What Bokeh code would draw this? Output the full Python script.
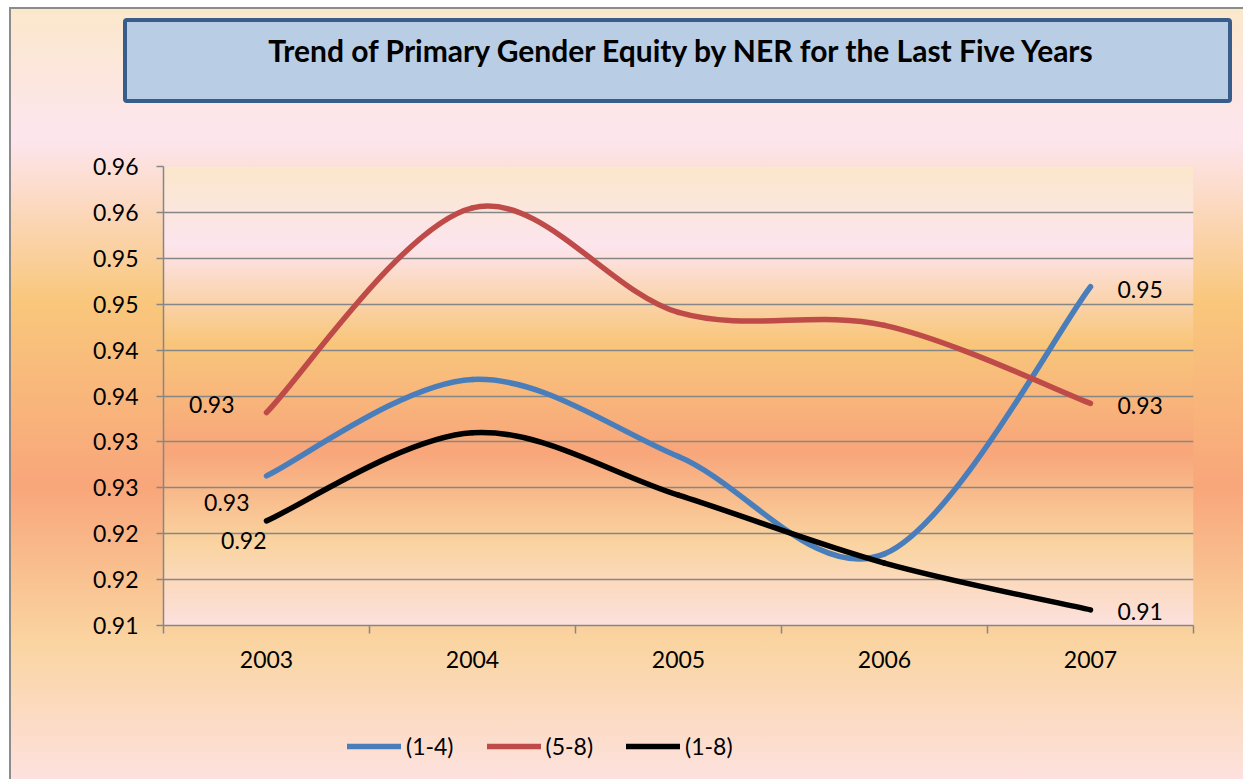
import numpy as np
from bokeh.plotting import figure
from bokeh.layouts import column
from bokeh.models import (Range1d, FixedTicker, CustomJSTickFormatter, ColumnDataSource,
                          Legend, LegendItem, Div)
from bokeh.core.properties import value
from bokeh.embed import file_html
from bokeh.resources import INLINE

# ---------------- data ----------------
years = ["2003", "2004", "2005", "2006", "2007"]
series_names = ["(1-4)", "(5-8)", "(1-8)"]
ner_1_4 = [0.9263, 0.9368, 0.9284, 0.9178, 0.9469]
ner_5_8 = [0.9332, 0.9555, 0.9441, 0.9427, 0.9342]
ner_1_8 = [0.9214, 0.9310, 0.9242, 0.9168, 0.9117]
y_ticks = [0.910, 0.915, 0.920, 0.925, 0.930, 0.935, 0.940, 0.945, 0.950, 0.955, 0.960]
y_tick_labels = ["0.91", "0.92", "0.92", "0.93", "0.93", "0.94", "0.94", "0.95", "0.95", "0.96", "0.96"]
title_text = "Trend of Primary Gender Equity by NER for the Last Five Years"

# ---------------- styles ----------------
FONT = "Lato"
FS = "23px"
LW = 5.5
colors = ["#4a7ebb", "#be4b48", "#000000"]
grid_col = "#868686"
grad_stops = [(0.0, "#fbe8cb"), (0.17, "#fde5ee"), (0.38, "#f9c77c"),
              (0.62, "#f8a67a"), (0.82, "#fad4a0"), (1.0, "#fde1de")]

TOTAL_W, TOTAL_H = 1243, 779
DIV_H = 120      # title strip
LEG_H = 89       # legend strip
PLOT_H = TOTAL_H - DIV_H - LEG_H

# ---------------- title box (HTML text) ----------------
title_div = Div(
    text=(f'<div style="position:relative;width:{TOTAL_W}px;height:{DIV_H}px;">'
          f'<div style="position:absolute;left:123px;top:18px;width:1109px;height:85px;'
          f'box-sizing:border-box;border:4px solid #385d8a;border-radius:4px;background:#b9cde5;'
          f'font-family:{FONT};font-weight:bold;font-size:30px;line-height:36px;color:#000;'
          f'text-align:center;padding-top:10px;padding-left:6px;white-space:nowrap;">'
          f'{title_text}</div></div>'),
    width=TOTAL_W, height=DIV_H, margin=(0, 0, 0, 0))

# ---------------- main plot ----------------
p = figure(width=TOTAL_W, height=PLOT_H, output_backend="svg", toolbar_location=None, title=None,
           x_range=Range1d(-0.5, len(years) - 0.5), y_range=Range1d(y_ticks[0], y_ticks[-1]),
           min_border_left=163, min_border_right=50, min_border_top=166 - DIV_H,
           min_border_bottom=PLOT_H - (625 - DIV_H))
p.margin = (0, 0, 0, 0)
p.border_fill_color = None
p.background_fill_color = None
p.outline_line_color = None

# plot-area gradient (decorative background image)
def hex2rgb(h):
    return [int(h[i:i + 2], 16) for i in (1, 3, 5)]
N = 460
fr = np.array([f for f, _ in grad_stops])
cols = np.array([hex2rgb(c) for _, c in grad_stops], dtype=float)
t = 1.0 - np.linspace(0, 1, N)  # row 0 = bottom
rgb = np.stack([np.interp(t, fr, cols[:, k]) for k in range(3)], axis=1)
img = np.zeros((N, 2), dtype=np.uint32)
view = img.view(dtype=np.uint8).reshape((N, 2, 4))
for k in range(3):
    view[:, :, k] = rgb[:, None, k]
view[:, :, 3] = 255
p.image_rgba(image=[img], x=-0.5, y=y_ticks[0], dw=len(years), dh=y_ticks[-1] - y_ticks[0], level="image")

# axes
p.xaxis.ticker = FixedTicker(ticks=list(range(len(years))),
                             minor_ticks=[i - 0.5 for i in range(len(years) + 1)])
p.xaxis.formatter = CustomJSTickFormatter(args=dict(labels=years),
    code="const i = Math.round(tick); return (i >= 0 && i < labels.length) ? labels[i] : '';")
p.xaxis.major_tick_line_color = None
p.xaxis.major_tick_out = 0
p.xaxis.major_tick_in = 0
p.xaxis.minor_tick_line_color = grid_col
p.xaxis.minor_tick_line_width = 1.5
p.xaxis.minor_tick_out = 8
p.xaxis.minor_tick_in = 0
p.xaxis.major_label_standoff = 17

p.yaxis.ticker = FixedTicker(ticks=y_ticks, minor_ticks=[])
p.yaxis.formatter = CustomJSTickFormatter(args=dict(yvals=y_ticks, ylabels=y_tick_labels),
    code="const i = yvals.findIndex(v => Math.abs(v - tick) < 1e-9); return i >= 0 ? ylabels[i] : '';")
p.yaxis.major_tick_line_color = grid_col
p.yaxis.major_tick_line_width = 1.5
p.yaxis.major_tick_out = 7
p.yaxis.major_tick_in = 0
p.yaxis.minor_tick_line_color = None
p.yaxis.major_label_standoff = 18

for ax in (p.xaxis, p.yaxis):
    ax.axis_line_color = grid_col
    ax.axis_line_width = 1.5
    ax.major_label_text_font = FONT
    ax.major_label_text_font_size = FS
    ax.major_label_text_color = "#000000"

p.xgrid.grid_line_color = None
p.ygrid.grid_line_color = grid_col
p.ygrid.grid_line_width = 1.5

# smoothed lines (Catmull-Rom style Bezier segments through the data points)
def bezier_source(vals):
    xs = np.arange(len(vals), dtype=float)
    ys = np.array(vals, dtype=float)
    n = len(vals)
    d = dict(x0=[], y0=[], x1=[], y1=[], cx0=[], cy0=[], cx1=[], cy1=[])
    for i in range(n - 1):
        im1 = max(i - 1, 0)
        ip2 = min(i + 2, n - 1)
        d["x0"].append(xs[i]); d["y0"].append(ys[i])
        d["x1"].append(xs[i + 1]); d["y1"].append(ys[i + 1])
        d["cx0"].append(xs[i] + (xs[i + 1] - xs[im1]) / 6)
        d["cy0"].append(ys[i] + (ys[i + 1] - ys[im1]) / 6)
        d["cx1"].append(xs[i + 1] - (xs[ip2] - xs[i]) / 6)
        d["cy1"].append(ys[i + 1] - (ys[ip2] - ys[i]) / 6)
    return ColumnDataSource(d)

all_series = [ner_1_4, ner_5_8, ner_1_8]
for vals, col in zip(all_series, colors):
    p.bezier(x0="x0", y0="y0", x1="x1", y1="y1", cx0="cx0", cy0="cy0", cx1="cx1", cy1="cy1",
             source=bezier_source(vals), line_color=col, line_width=LW, line_cap="round")

# data labels at first and last year
first_off = [(-17, 27), (-32, -8), (0, 20)]
last_off = [(27, 3), (27, 2), (27, 2)]
for vals, fo, lo in zip(all_series, first_off, last_off):
    p.text(x=[0], y=[vals[0]], text=[f"{vals[0]:.2f}"], x_offset=fo[0], y_offset=fo[1],
           text_align="right", text_baseline="middle", text_font=value(FONT),
           text_font_size=FS, text_color="#000000")
    n = len(vals) - 1
    p.text(x=[n], y=[vals[n]], text=[f"{vals[n]:.2f}"], x_offset=lo[0], y_offset=lo[1],
           text_align="left", text_baseline="middle", text_font=value(FONT),
           text_font_size=FS, text_color="#000000")

# ---------------- legend strip ----------------
# key renderers carry the series data; the strip's y range keeps them out of view
pl = figure(width=TOTAL_W, height=LEG_H, output_backend="svg", toolbar_location=None, title=None,
            x_range=Range1d(-0.5, len(years) - 0.5), y_range=Range1d(0, 0.5),
            x_axis_type=None, y_axis_type=None, min_border=0)
pl.margin = (0, 0, 0, 0)
pl.border_fill_color = None
pl.background_fill_color = None
pl.outline_line_color = None
pl.grid.visible = False
key_renderers = [pl.line(x=list(range(len(years))), y=vals, line_color=c, line_width=LW, line_cap="round")
                 for vals, c in zip(all_series, colors)]
legend = Legend(items=[LegendItem(label=nm, renderers=[r]) for nm, r in zip(series_names, key_renderers)],
                orientation="horizontal", location=(184, 19), glyph_width=54, glyph_height=20,
                label_standoff=5, spacing=33, padding=0, margin=0, border_line_color=None,
                background_fill_color=None, background_fill_alpha=0,
                label_text_font=FONT, label_text_font_size=FS, label_text_color="#000000")
pl.add_layout(legend)

stops_css = ", ".join(f"{c} {f * 100:.1f}%" for f, c in grad_stops)
layout = column(title_div, p, pl, spacing=0, width=TOTAL_W, height=TOTAL_H)
layout.styles = {
    "background": (
        "linear-gradient(#8c8c8c,#8c8c8c) 9px 7px / 2px 772px no-repeat, "
        "linear-gradient(#8c8c8c,#8c8c8c) 9px 7px / 1234px 2px no-repeat, "
        f"linear-gradient(to bottom, {stops_css}) 10px 8px / 1233px 771px no-repeat, #ffffff"
    )
}

open("out.html", "w").write(file_html(layout, INLINE))
